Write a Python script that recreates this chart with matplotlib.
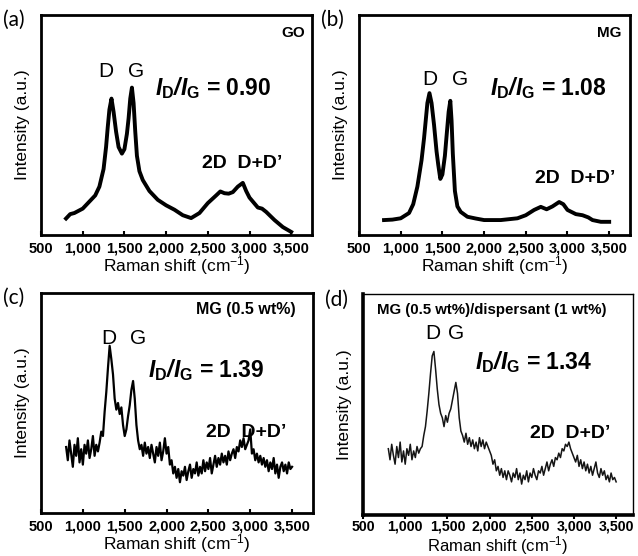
import numpy as np
import matplotlib
matplotlib.use('Agg')
import matplotlib.pyplot as plt

plt.rcParams['font.family'] = 'Liberation Sans'
plt.rcParams['mathtext.fontset'] = 'custom'
plt.rcParams['mathtext.rm'] = 'Liberation Sans'
plt.rcParams['mathtext.it'] = 'Liberation Sans:italic'
plt.rcParams['mathtext.bf'] = 'Liberation Sans:bold'
plt.rcParams['mathtext.bfit'] = 'Liberation Sans:bold:italic'

# tick positions and labels shared by every panel
x_ticks = [500, 1000, 1500, 2000, 2500, 3000, 3500]
x_tick_labels = ['500', '1,000', '1,500', '2,000', '2,500', '3,000', '3,500']

# (a) GO
go_shift = [800, 850, 900, 1000, 1100, 1150, 1200, 1250, 1280, 1300,
            1320, 1345, 1370, 1400, 1430, 1470, 1500, 1530, 1550, 1570,
            1590, 1610, 1630, 1650, 1680, 1720, 1800, 1900, 2000, 2100,
            2200, 2300, 2400, 2500, 2600, 2650, 2700, 2750, 2800, 2860,
            2920, 2960, 3000, 3100, 3150, 3200, 3300, 3400, 3500]
go_int = [7.5, 9.5, 10, 12, 16, 18, 22, 30, 40, 49,
          57, 62, 56, 47, 40, 37, 39, 46, 53, 62,
          67, 60, 47, 36, 29, 25, 20, 16, 13.5, 11.5,
          9, 7.7, 10, 14.5, 18, 19.8, 19, 18.8, 19.5, 22,
          23.7, 20, 17, 12.5, 12, 10.5, 6.8, 3.6, 1.4]

# (b) MG
mg_shift = [800, 900, 1000, 1100, 1150, 1200, 1250, 1280, 1300, 1320,
            1345, 1370, 1400, 1430, 1450, 1475, 1500, 1530, 1550, 1575,
            1595, 1610, 1625, 1650, 1680, 1720, 1800, 1900, 2000, 2200,
            2400, 2500, 2600, 2680, 2750, 2820, 2900, 2950, 3000, 3100,
            3180, 3250, 3300, 3400, 3500]
mg_int = [6.8, 7, 7.6, 10, 14, 22, 34, 44, 52, 60,
          64.5, 60, 50, 38, 32, 25.5, 27.5, 36, 45, 56,
          61, 52, 37, 20, 13, 10.5, 8.3, 7.5, 6.8, 6.8,
          7.6, 9, 11.4, 12.8, 11.7, 13, 15, 14, 11.4, 9.5,
          9, 8, 6.8, 6, 6]

# (c) and (d) are noisy, sampled every 20 cm-1 from 800 to 3500
noisy_shift = np.arange(800, 3501, 20)
mg05_int = [30, 24, 33, 27, 21, 31, 26, 34, 23, 29,
            22, 31, 27, 33, 25, 29, 35, 26, 31, 28,
            32, 37, 35, 46, 55, 66, 76, 70, 63, 52,
            47, 50, 45, 48, 40, 35, 38, 44, 49, 56,
            60, 52, 40, 33, 29, 31, 26, 32, 27, 30,
            25, 31, 27, 23, 30, 26, 32, 24, 28, 34,
            27, 30, 22, 24, 18, 21, 16, 20, 14, 19,
            17, 21, 15, 19, 22, 16, 20, 18, 23, 17,
            21, 18, 24, 19, 23, 20, 25, 18, 22, 26,
            21, 25, 22, 27, 23, 26, 22, 28, 24, 27,
            29, 25, 30, 28, 33, 30, 34, 29, 31, 33,
            38, 27, 29, 24, 27, 23, 26, 22, 25, 21,
            24, 19, 23, 20, 25, 18, 22, 16, 21, 23,
            19, 22, 18, 23, 20, 21]
mgdisp_int = [30, 25, 32, 27, 23, 31, 26, 33, 24, 29,
              23, 30, 27, 32, 25, 29, 26, 31, 28, 30,
              31, 36, 40, 47, 55, 64, 72, 74, 66, 57,
              50, 46, 44, 40, 45, 42, 46, 48, 52, 56,
              60, 55, 44, 38, 36, 33, 37, 32, 35, 31,
              34, 30, 33, 29, 35, 31, 34, 30, 33, 31,
              29, 27, 23, 25, 20, 22, 18, 21, 17, 20,
              16, 20, 18, 15, 19, 17, 21, 16, 19, 14,
              18, 16, 20, 15, 19, 17, 21, 18, 16, 20,
              19, 22, 18, 21, 24, 20, 23, 25, 22, 26,
              25, 28, 26, 30, 29, 32, 31, 33, 30, 28,
              26, 24, 27, 22, 25, 21, 24, 20, 23, 19,
              22, 18, 21, 24, 19, 17, 21, 18, 20, 16,
              18, 15, 19, 16, 17, 15]

ratios = ['0.90', '1.08', '1.39', '1.34']
sample_names = ['GO', 'MG', 'MG (0.5 wt%)', 'MG (0.5 wt%)/dispersant (1 wt%)']
panel_letters = ['(a)', '(b)', '(c)', '(d)']

fig = plt.figure(figsize=(6.38, 5.56), dpi=100)

ax_a = fig.add_axes([0.0643, 0.5773, 0.4248, 0.3957])
ax_b = fig.add_axes([0.5627, 0.5773, 0.4248, 0.3957])
ax_c = fig.add_axes([0.0643, 0.0773, 0.4263, 0.3957])
ax_d = fig.add_axes([0.569, 0.0737, 0.4232, 0.3975])
axes = [ax_a, ax_b, ax_c, ax_d]

ax_a.plot(go_shift, go_int, color='black', lw=2.8, solid_joinstyle='round')
ax_b.plot(mg_shift, mg_int, color='black', lw=2.8, solid_joinstyle='round')
ax_c.plot(noisy_shift, mg05_int, color='black', lw=1.6)
ax_d.plot(noisy_shift, mgdisp_int, color='#151515', lw=1.1)

for i, ax in enumerate(axes):
    ax.set_xlim(500, 3750 if i < 3 else 3700)
    ax.set_ylim(0, 100)
    ax.set_yticks([])
    ax.set_xticks(x_ticks)
    ax.set_ylabel('Intensity (a.u.)', fontsize=12.5, labelpad=8)
    if i < 3:
        ax.set_xticklabels(x_tick_labels, fontsize=10.5, fontweight='bold')
        ax.set_xlabel('Raman shift (cm$^{-1}$)', fontsize=12.5, labelpad=-1)
        for s in ax.spines.values():
            s.set_linewidth(2.0)
        ax.tick_params(axis='x', direction='in', length=3, width=1.5, pad=5)
    else:
        ax.set_xticklabels(x_tick_labels, fontsize=10.2, fontweight='bold')
        ax.set_xlabel('Raman shift (cm$^{-1}$)', fontsize=12, labelpad=0)
        ax.spines['left'].set_linewidth(2.6)
        ax.spines['bottom'].set_linewidth(2.6)
        ax.spines['top'].set_linewidth(1.0)
        ax.spines['right'].set_linewidth(1.0)
        ax.tick_params(axis='x', direction='out', length=3, width=1.5, pad=0.5)

# label positions in axes fractions
d_pos = [(0.24, 0.745), (0.262, 0.705), (0.25, 0.795), (0.257, 0.82)]
g_pos = [(0.352, 0.745), (0.373, 0.705), (0.355, 0.795), (0.344, 0.82)]
ratio_pos = [(0.42, 0.666), (0.483, 0.668), (0.393, 0.65), (0.415, 0.69)]
second_pos = [(0.744, 0.325), (0.797, 0.259), (0.754, 0.364), (0.767, 0.368)]

for i, ax in enumerate(axes):
    ax.text(*d_pos[i], 'D', transform=ax.transAxes, ha='center', va='center',
            fontsize=15)
    ax.text(*g_pos[i], 'G', transform=ax.transAxes, ha='center', va='center',
            fontsize=15)
    ax.text(*ratio_pos[i],
            r'$\mathbfit{I}_{\mathbf{D}}\mathbfit{/I}_{\mathbf{G}}$' + ' = ' + ratios[i],
            transform=ax.transAxes, ha='left', va='center', fontsize=16.5,
            fontweight='bold')
    ax.text(*second_pos[i], '2D  D+D\u2019', transform=ax.transAxes,
            ha='center', va='center', fontsize=14, fontweight='bold')

ax_a.text(0.975, 0.918, sample_names[0], transform=ax_a.transAxes, ha='right',
          va='center', fontsize=11, fontweight='bold')
ax_b.text(0.97, 0.918, sample_names[1], transform=ax_b.transAxes, ha='right',
          va='center', fontsize=11, fontweight='bold')
ax_c.text(0.935, 0.923, sample_names[2], transform=ax_c.transAxes, ha='right',
          va='center', fontsize=11.5, fontweight='bold')
ax_d.text(0.478, 0.928, sample_names[3], transform=ax_d.transAxes, ha='center',
          va='center', fontsize=10.8, fontweight='bold')

# panel letters
letter_xy = [(3, 20), (321, 20), (3, 298), (325, 300)]
for (px, py), lab in zip(letter_xy, panel_letters):
    fig.text(px / 638, 1 - py / 556, lab, ha='left', va='center',
             fontsize=15, family='Lato')

fig.savefig('out.png', dpi=100)
